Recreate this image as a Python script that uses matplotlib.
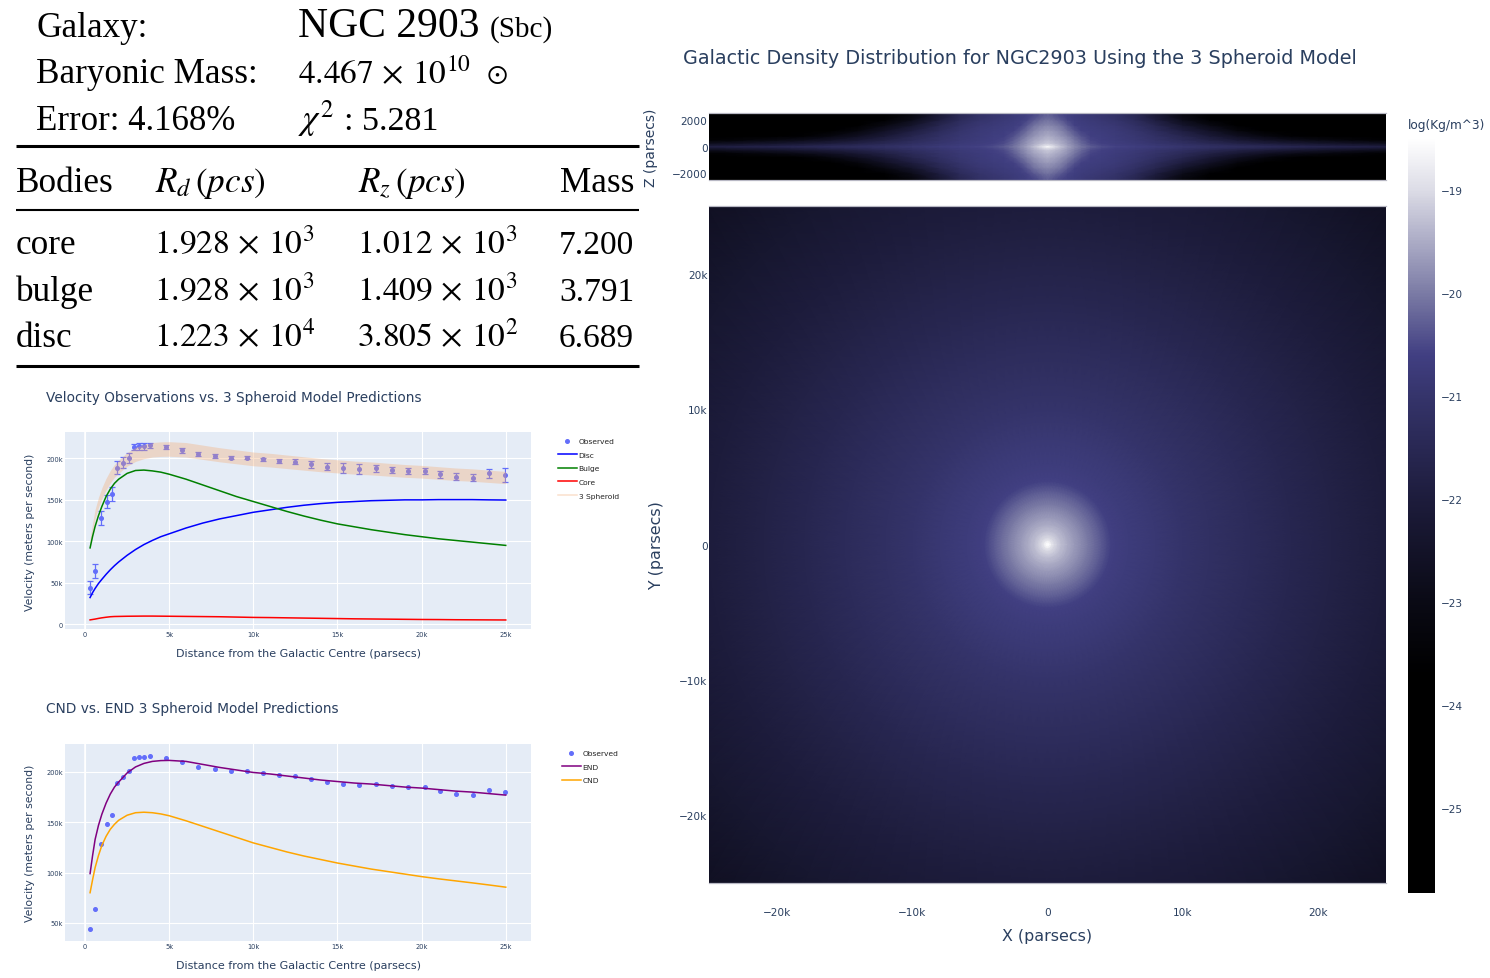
import numpy as np
import matplotlib
matplotlib.use('Agg')
import matplotlib.pyplot as plt
from matplotlib.colors import LinearSegmentedColormap, Normalize
from matplotlib.lines import Line2D

W, H = 1490, 979
INK = '#2a3f5f'
PLOT_BG = '#e5ecf6'
plt.rcParams['font.family'] = ['DejaVu Sans']
plt.rcParams['mathtext.fontset'] = 'stix'

# observed rotation curve, x in k parsecs, velocities in k m/s
obs_r = [0.3, 0.6, 0.95, 1.3, 1.6, 1.9, 2.25, 2.6, 2.9, 3.2, 3.5, 3.85, 4.8, 5.75, 6.7, 7.7, 8.65,
         9.6, 10.55, 11.5, 12.5, 13.45, 14.4, 15.35, 16.3, 17.3, 18.25, 19.2, 20.2, 21.1, 22.05,
         23.05, 24.0, 24.95]
obs_v = [44, 64, 128, 148, 157, 189, 195, 201, 214, 214.5, 214.5, 216, 214, 210, 205, 203, 201,
         201, 199, 197, 196, 193, 190, 188, 187, 188, 186, 185, 185, 181, 178, 177, 182, 180]
obs_err = [8, 8, 8, 8, 8, 8, 7, 6, 4, 4, 4, 3, 2.5, 3, 2.5, 2, 2,
           2, 2, 2, 3, 4, 4, 6, 6, 4, 4, 4, 4, 4, 4,
           4, 5, 8]

model_r = [0.3, 0.45, 0.6, 0.8, 1, 1.25, 1.5, 1.75, 2, 2.5, 3, 3.5, 4, 4.5, 5, 6, 7, 8, 9, 10, 11, 12,
           13, 14, 15, 16, 17, 18, 19, 20, 21, 22, 23, 24, 25]
disc_v = [32, 38, 43, 49, 54, 60, 65.5, 70.5, 75, 83, 90, 96, 101, 105.5, 109, 116, 122, 127, 131, 135,
          138, 141, 143.5, 145.5, 147, 148, 149, 149.5, 150, 150, 150.3, 150.3, 150.3, 150, 149.8]
bulge_v = [92, 106, 118, 131, 142, 154, 163, 170, 175, 182, 185.5, 186, 185, 183.5, 181, 175, 168, 161,
           154, 148, 142, 136, 130.5, 125.5, 121, 117.5, 114, 111, 108, 105.5, 103, 101, 99, 97, 95]
core_v = [5, 5.5, 6, 6.8, 7.5, 8.2, 8.8, 9.1, 9.2, 9.4, 9.5, 9.6, 9.6, 9.5, 9.4, 9.2, 9, 8.8, 8.4, 8,
          7.8, 7.5, 7.2, 6.9, 6.6, 6.3, 6.1, 5.9, 5.7, 5.5, 5.4, 5.2, 5.1, 5, 4.9]
end_v = [99, 117, 133, 147, 158, 169, 178, 185, 190, 199, 205, 208.5, 210.5, 211.3, 211.5, 210.5, 207.5,
         204.5, 202, 199.5, 198, 196, 194, 192, 190.5, 189, 188, 186.5, 185, 184, 182.5, 181, 180, 178.5, 177]
cnd_v = [80, 93, 105, 117, 127, 136, 143, 148, 152, 157, 159.5, 160, 159.5, 158.3, 156.5, 151.5, 146,
         140.5, 135, 129.5, 125, 120.5, 116.5, 113, 109.5, 106.5, 103.5, 101, 98.5, 96, 93.8, 91.8, 89.8,
         87.7, 85.5]
band_error = 0.04168

# density seen face on, log10 against radius in k parsecs
face_r = [0, 0.15, 0.3, 0.5, 0.75, 1, 1.5, 2, 2.5, 3, 3.5, 4, 4.4, 4.7, 5, 6, 8, 10, 12, 15, 18, 21, 25, 30, 36]
face_log = [-18.5, -18.6, -18.85, -19.05, -19.2, -19.32, -19.52, -19.7, -19.86, -20.02, -20.18, -20.35,
            -20.5, -20.6, -20.64, -20.72, -20.87, -21.02, -21.17, -21.37, -21.57, -21.77, -22.0, -22.3, -22.7]

# density edge on, rows follow edge_x (k parsecs), columns edge_z (parsecs)
edge_x = [0, 0.25, 0.6, 1, 1.5, 2, 2.5, 3.2, 4, 5, 6.5, 8, 10, 12, 14, 16, 18, 20, 22.5, 25]
edge_z = [0, 100, 250, 500, 800, 1200, 1600, 2000, 2500]
edge_log = [
    [-18.5, -18.95, -19.2, -19.35, -19.5, -19.7, -19.9, -20.1, -20.35],
    [-18.8, -19.0, -19.25, -19.4, -19.55, -19.72, -19.92, -20.12, -20.4],
    [-19.05, -19.2, -19.35, -19.5, -19.62, -19.8, -19.98, -20.22, -20.5],
    [-19.3, -19.4, -19.5, -19.6, -19.75, -19.92, -20.1, -20.35, -20.6],
    [-19.6, -19.65, -19.72, -19.8, -19.95, -20.15, -20.35, -20.55, -20.65],
    [-19.85, -19.9, -19.97, -20.05, -20.2, -20.4, -20.58, -20.65, -20.72],
    [-20.05, -20.12, -20.2, -20.3, -20.42, -20.6, -20.65, -20.72, -20.8],
    [-20.3, -20.38, -20.48, -20.55, -20.62, -20.66, -20.72, -20.8, -20.9],
    [-20.45, -20.52, -20.6, -20.64, -20.66, -20.72, -20.8, -20.88, -21.0],
    [-20.55, -20.62, -20.68, -20.72, -20.75, -20.8, -20.88, -21.0, -21.15],
    [-20.65, -20.72, -20.8, -20.85, -20.9, -21.0, -21.15, -21.35, -21.6],
    [-20.75, -20.85, -20.95, -21.05, -21.15, -21.35, -21.6, -21.95, -22.3],
    [-20.95, -21.05, -21.2, -21.4, -21.6, -21.95, -22.4, -22.9, -23.3],
    [-21.15, -21.25, -21.5, -21.8, -22.15, -22.6, -23.1, -23.6, -24.0],
    [-21.3, -21.45, -21.75, -22.2, -22.7, -23.3, -23.8, -24.2, -24.6],
    [-21.4, -21.6, -22.0, -22.6, -23.2, -23.8, -24.3, -24.7, -25.0],
    [-21.5, -21.8, -22.2, -22.9, -23.6, -24.2, -24.7, -25.0, -25.3],
    [-21.6, -21.95, -22.4, -23.15, -23.9, -24.5, -25.0, -25.3, -25.5],
    [-21.7, -22.1, -22.6, -23.4, -24.2, -24.8, -25.2, -25.5, -25.7],
    [-21.8, -22.25, -22.8, -23.6, -24.4, -25.0, -25.4, -25.6, -25.8],
]

cmap_levels = [-25.83, -23.7, -23, -22, -21, -20.6, -20, -19, -18.5]
cmap_colors = ['#000000', '#000000', '#0a0a15', '#1d1c3c', '#35346b', '#413f82', '#7b7ba5', '#dcdce6', '#ffffff']

curve_ticks = [0, 5, 10, 15, 20, 25]
curve_tick_labels = ['0', '5k', '10k', '15k', '20k', '25k']
speed_ticks = [0, 50, 100, 150, 200]
speed_labels = ['0', '50k', '100k', '150k', '200k']
map_ticks = [-20, -10, 0, 10, 20]
map_labels = ['−20k', '−10k', '0', '10k', '20k']
z_ticks = [-2000, 0, 2000]
z_labels = ['−2000', '0', '2000']
bar_ticks = [-25, -24, -23, -22, -21, -20, -19]
bar_labels = ['−25', '−24', '−23', '−22', '−21', '−20', '−19']


def axes_px(fig, left, top, right, bottom):
    return fig.add_axes([left / W, 1 - bottom / H, (right - left) / W, (bottom - top) / H])


def text_px(fig, x, y, s, **kw):
    kw.setdefault('va', 'baseline')
    return fig.text(x / W, 1 - y / H, s, **kw)


def style_curve_axes(ax, ylim, yticks, ylabels):
    ax.set_facecolor(PLOT_BG)
    ax.set_xlim(-1.19, 26.5)
    ax.set_ylim(*ylim)
    ax.set_xticks(curve_ticks, curve_tick_labels)
    ax.set_yticks(yticks, ylabels)
    ax.grid(color='white', lw=0.8)
    ax.set_axisbelow(True)
    ax.tick_params(length=0, labelsize=4.8, labelcolor=INK, pad=1.5)
    for s in ax.spines.values():
        s.set_visible(False)
    ax.axvline(0, color='white', lw=1.2, zorder=0.9)


fig = plt.figure(figsize=(W / 100, H / 100), dpi=100, facecolor='white')

# summary table at top left
SERIF = ['Liberation Serif', 'DejaVu Serif']
BIG = 25.3
NUM = 24
text_px(fig, 36, 37, 'Galaxy:', family=SERIF, fontsize=BIG)
text_px(fig, 298, 37, 'NGC 2903', family=SERIF, fontsize=30)
text_px(fig, 490, 37, '(Sbc)', family=SERIF, fontsize=21)
text_px(fig, 36, 83, 'Baryonic Mass:', family=SERIF, fontsize=BIG)
text_px(fig, 298, 83, r'$4.467\,\times\,10^{10}$', family=SERIF, fontsize=NUM)
text_px(fig, 486, 82, r'$\odot$', family=SERIF, fontsize=20)
text_px(fig, 36, 130, 'Error: 4.168%', family=SERIF, fontsize=25)
text_px(fig, 298, 130, r'$\chi^{2}$', family=SERIF, fontsize=BIG)
text_px(fig, 344, 130, ': 5.281', family=SERIF, fontsize=24.5)
text_px(fig, 16, 192, 'Bodies', family=SERIF, fontsize=BIG)
text_px(fig, 155, 192, r'$R_d\,(pcs)$', family=SERIF, fontsize=BIG)
text_px(fig, 358, 192, r'$R_z\,(pcs)$', family=SERIF, fontsize=BIG)
text_px(fig, 560, 192, 'Mass', family=SERIF, fontsize=BIG)
body_rows = [('core', r'$1.928\,\times\,10^{3}$', r'$1.012\,\times\,10^{3}$', '7.200', 254),
             ('bulge', r'$1.928\,\times\,10^{3}$', r'$1.409\,\times\,10^{3}$', '3.791', 301),
             ('disc', r'$1.223\,\times\,10^{4}$', r'$3.805\,\times\,10^{2}$', '6.689', 347)]
for name, rd, rz, mass, y in body_rows:
    text_px(fig, 16, y, name, family=SERIF, fontsize=BIG)
    text_px(fig, 154, y, rd, family=SERIF, fontsize=NUM)
    text_px(fig, 357, y, rz, family=SERIF, fontsize=NUM)
    text_px(fig, 559, y, mass, family=SERIF, fontsize=NUM)
for y, lw in [(147, 2.2), (210.5, 1.5), (367, 2.2)]:
    fig.add_artist(Line2D([16 / W, 639 / W], [1 - y / H, 1 - y / H], color='black', lw=lw,
                          solid_capstyle='butt'))

# velocity chart
ax1 = axes_px(fig, 65, 433, 531, 630)
style_curve_axes(ax1, (-6, 232), speed_ticks, speed_labels)
ax1.errorbar(obs_r, obs_v, yerr=obs_err, fmt='o', ms=2.6, color='#636efa', elinewidth=0.9,
             capsize=2, capthick=0.9, zorder=2)
spheroid = np.array(end_v)
ax1.fill_between(model_r, spheroid * (1 - band_error), spheroid * (1 + band_error),
                 color='#f5a76c', alpha=0.33, lw=0, zorder=3)
ax1.plot(model_r, disc_v, color='blue', lw=1.1, zorder=4)
ax1.plot(model_r, bulge_v, color='green', lw=1.1, zorder=4)
ax1.plot(model_r, core_v, color='red', lw=1.1, zorder=4)
legend1 = [Line2D([], [], ls='', marker='o', ms=2.6, color='#636efa', label='Observed'),
           Line2D([], [], color='blue', lw=1.1, label='Disc'),
           Line2D([], [], color='green', lw=1.1, label='Bulge'),
           Line2D([], [], color='red', lw=1.1, label='Core'),
           Line2D([], [], color='#fbe0cd', lw=1.1, label='3 Spheroid')]
ax1.legend(handles=legend1, loc='upper left', bbox_to_anchor=(558 / W, 1 - 439 / H), bbox_transform=fig.transFigure,
           frameon=False, fontsize=5.4, labelcolor='#222222', handlelength=2.5, handletextpad=0.25, labelspacing=0.98,
           borderpad=0, borderaxespad=0)

text_px(fig, 46, 402, 'Velocity Observations vs. 3 Spheroid Model Predictions', fontsize=9.8, color=INK)
text_px(fig, 298, 657, 'Distance from the Galactic Centre (parsecs)', fontsize=8, color=INK, ha='center')
text_px(fig, 30, 532, 'Velocity (meters per second)', fontsize=7.8, color=INK, rotation=90, ha='center', va='center')

# CND vs END chart
ax2 = axes_px(fig, 65, 745, 531, 942)
style_curve_axes(ax2, (32, 227.8), speed_ticks[1:], speed_labels[1:])
ax2.plot(obs_r, obs_v, ls='', marker='o', ms=2.6, color='#636efa', zorder=2)
ax2.plot(model_r, end_v, color='purple', lw=1.1, zorder=3)
ax2.plot(model_r, cnd_v, color='orange', lw=1.1, zorder=3)
legend2 = [Line2D([], [], ls='', marker='o', ms=2.6, color='#636efa', label='Observed'),
           Line2D([], [], color='purple', lw=1.1, label='END'),
           Line2D([], [], color='orange', lw=1.1, label='CND')]
ax2.legend(handles=legend2, loc='upper left', bbox_to_anchor=(562 / W, 1 - 751 / H), bbox_transform=fig.transFigure,
           frameon=False, fontsize=5.4, labelcolor='#222222', handlelength=2.5, handletextpad=0.25, labelspacing=0.98,
           borderpad=0, borderaxespad=0)
text_px(fig, 46, 713, 'CND vs. END 3 Spheroid Model Predictions', fontsize=9.9, color=INK)
text_px(fig, 298, 969, 'Distance from the Galactic Centre (parsecs)', fontsize=8, color=INK, ha='center')
text_px(fig, 30, 843, 'Velocity (meters per second)', fontsize=7.8, color=INK, rotation=90, ha='center', va='center')

# density maps
lo, hi = cmap_levels[0], cmap_levels[-1]
stops = [(v - lo) / (hi - lo) for v in cmap_levels]
density_cmap = LinearSegmentedColormap.from_list('density', list(zip(stops, cmap_colors)), N=512)
norm = Normalize(lo, hi)

ax_edge = axes_px(fig, 709, 114, 1386, 181)
x_mirror = np.array([-v for v in edge_x[:0:-1]] + edge_x)
z_mirror = np.array([-v for v in edge_z[:0:-1]] + edge_z)
edge_half = np.array(edge_log)
edge_full = np.vstack([edge_half[:0:-1], edge_half])
edge_full = np.hstack([edge_full[:, :0:-1], edge_full])
ax_edge.pcolormesh(x_mirror, z_mirror, edge_full.T, cmap=density_cmap, norm=norm, shading='gouraud')
ax_edge.set_xlim(-25, 25)
ax_edge.set_ylim(-2500, 2500)
ax_edge.set_xticks([])
ax_edge.set_yticks(z_ticks, z_labels)

ax_face = axes_px(fig, 709, 207, 1386, 884)
theta = np.radians(np.arange(0, 361, 3))
rr, tt = np.meshgrid(face_r, theta)
face_vals = np.tile(np.array(face_log), (len(theta), 1))
mesh = ax_face.pcolormesh(rr * np.cos(tt), rr * np.sin(tt), face_vals, cmap=density_cmap, norm=norm,
                          shading='gouraud')
ax_face.set_xlim(-25, 25)
ax_face.set_ylim(-25, 25)
ax_face.set_xticks(map_ticks, map_labels)
ax_face.set_yticks(map_ticks, map_labels)

for ax in (ax_edge, ax_face):
    ax.tick_params(length=0, labelsize=7.6, labelcolor=INK, pad=1)
    for side in ('left', 'right'):
        ax.spines[side].set_visible(False)
    for side in ('top', 'bottom'):
        ax.spines[side].set_color('#b8b8c4')
        ax.spines[side].set_linewidth(0.9)
ax_face.tick_params(axis='x', pad=17)

cax = axes_px(fig, 1408, 139, 1435, 894)
cbar = fig.colorbar(mesh, cax=cax)
cbar.set_ticks(bar_ticks, labels=bar_labels)
cbar.ax.tick_params(length=0, labelsize=7.6, labelcolor=INK, pad=4)
cbar.outline.set_visible(False)
text_px(fig, 1408, 129, 'log(Kg/m^3)', fontsize=8.7, color=INK)

text_px(fig, 683, 64, 'Galactic Density Distribution for NGC2903 Using the 3 Spheroid Model', fontsize=13.75, color=INK)
text_px(fig, 1047, 941, 'X (parsecs)', fontsize=11.4, color=INK, ha='center')
text_px(fig, 657, 546, 'Y (parsecs)', fontsize=11.4, color=INK, rotation=90, ha='center', va='center')
text_px(fig, 651, 148, 'Z (parsecs)', fontsize=10, color=INK, rotation=90, ha='center', va='center')

fig.savefig('out.png', dpi=100)
